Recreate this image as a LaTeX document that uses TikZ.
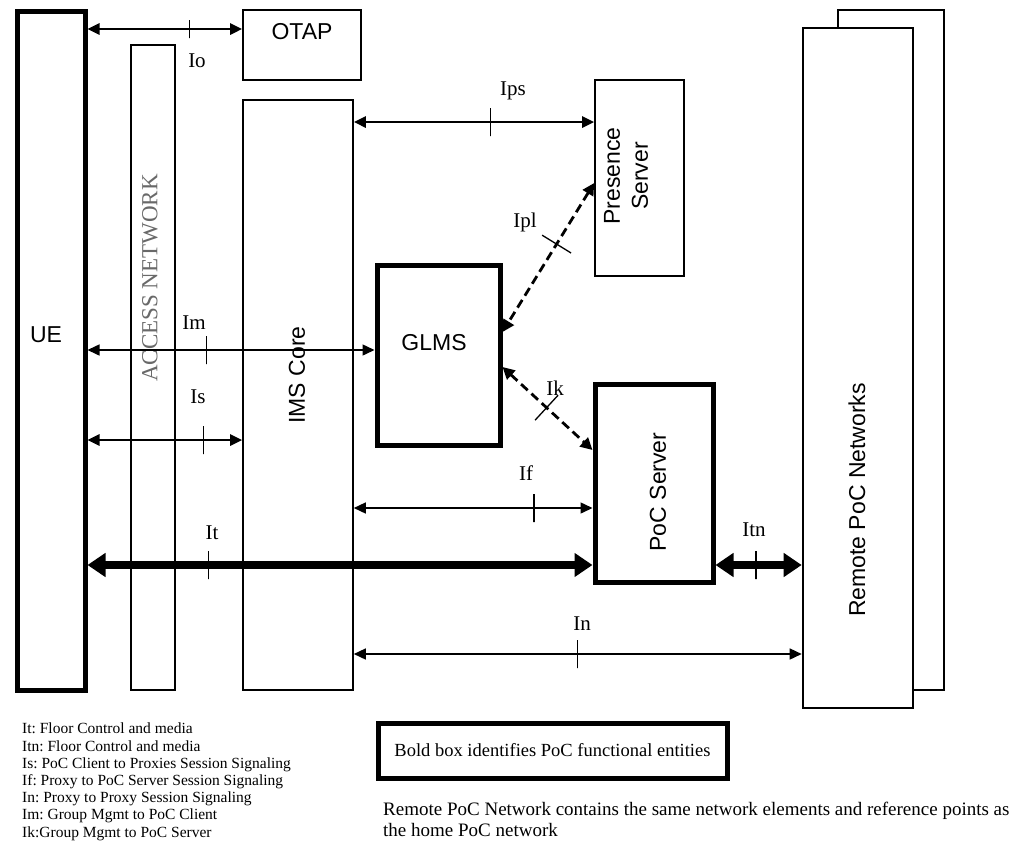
\documentclass[tikz,border=0pt]{standalone}
\usepackage{fontspec}
\setmainfont{Liberation Serif}
\setsansfont{Liberation Sans}
\frenchspacing
\definecolor{accgrey}{RGB}{105,105,105}
\usetikzlibrary{arrows.meta, positioning, calc}

\begin{document}
\begin{tikzpicture}[
  x=1pt, y=-1pt,
  entity/.style={rectangle, draw, fill=white, line width=1.6pt, inner sep=0pt},
  pocentity/.style={entity, line width=5pt},
  boxlabel/.style={font=\sffamily\fontsize{23}{28}\selectfont, inner sep=0pt},
  ifname/.style={font=\fontsize{21}{24}\selectfont, inner sep=0pt},
  tick/.style={draw, solid, line width=1.3pt, minimum width=0pt, minimum height=28pt,
               inner sep=0pt, outer sep=0pt, sloped},
  ref/.style={{Triangle[length=12pt,width=11pt]}-{Triangle[length=12pt,width=11pt]}, line width=1.5pt},
  refbold/.style={ref, line width=2.6pt},
  media/.style={{Triangle[length=18pt,width=23pt]}-{Triangle[length=18pt,width=23pt]}, line width=8pt},
  mgmt/.style={{Triangle[length=12pt,width=12pt]}-{Triangle[length=12pt,width=12pt]}, line width=2.8pt,
               dash pattern=on 9pt off 5pt},
  note/.style={font=\fontsize{15.5}{17.2}\selectfont, align=left, inner sep=0pt}
]
  \useasboundingbox (0,0) rectangle (1021,847);

  \node[entity, line width=2.6pt, minimum width=106pt, minimum height=680pt] (remoteback) at (891,350) {};
  \node[entity, line width=2.6pt, minimum width=110pt, minimum height=680pt] (remote) at (858,368) {};
  \node[boxlabel, rotate=90] (remotetxt) at (857,500) {Remote PoC Networks};

  \node[pocentity, minimum width=68pt, minimum height=679pt] (ue) at (51,350.5) {};
  \node[boxlabel] (uetxt) at (46,335) {UE};
  \node[entity, minimum width=44pt, minimum height=645pt] (access) at (153,367.5) {};
  \node[font=\fontsize{23}{27}\selectfont, text=accgrey, rotate=90, inner sep=0pt] (accesstxt) at (150,278) {ACCESS NETWORK};
  \node[entity, minimum width=118pt, minimum height=70pt] (otap) at (302,45) {};
  \node[boxlabel] (otaptxt) at (302,32) {OTAP};
  \node[entity, minimum width=110pt, minimum height=590pt] (ims) at (298,395) {};
  \node[boxlabel, rotate=90] (imstxt) at (297,375) {IMS Core};
  \node[entity, minimum width=89pt, minimum height=196pt] (presence) at (639.5,178) {};
  \node[boxlabel, rotate=90, align=center] (presencetxt) at (626,176) {Presence\\Server};
  \node[pocentity, minimum width=123pt, minimum height=180pt] (glms) at (438.5,355) {};
  \node[boxlabel] (glmstxt) at (434,343) {GLMS};
  \node[pocentity, minimum width=118pt, minimum height=198pt] (poc) at (654,483) {};
  \node[boxlabel, rotate=90] (poctxt) at (658,492) {PoC Server};

  \draw[refbold] (ue.east |- 0,29) -- node[tick, minimum height=18pt, pos=0.66] (iotick) {} (otap.west |- 0,29);
  \draw[refbold] (ims.east |- 0,122) -- node[tick, pos=0.57] (ipstick) {} (presence.west |- 0,122);
  \draw[mgmt] (presence.west |- 0,183) -- node[tick, minimum height=34pt, pos=0.41] (ipltick) {} (glms.east |- 0,332);
  \draw[mgmt] (glms.east |- 0,367) -- node[tick, minimum height=34pt, pos=0.49] (iktick) {} (poc.west |- 0,450);
  \draw[ref] (ue.east |- 0,350) -- node[tick, pos=0.415] (imtick) {} (glms.west |- 0,350);
  \draw[refbold] (ue.east |- 0,440) -- node[tick, pos=0.75] (istick) {} (ims.west |- 0,440);
  \draw[ref] (ims.east |- 0,508) -- node[tick, pos=0.755] (iftick) {} (poc.west |- 0,508);
  \draw[media] (ue.east |- 0,565) -- node[tick, pos=0.24] (ittick) {} (poc.west |- 0,565);
  \draw[media] (poc.east |- 0,565) -- node[tick, line width=2.6pt, pos=0.47] (itntick) {} (remote.west |- 0,565);
  \draw[ref] (ims.east |- 0,654) -- node[tick, pos=0.5] (intick) {} (remote.west |- 0,654);

  \node[ifname] (io) at (197,61) {Io};
  \node[ifname] (ips) at (513,91) {Ips};
  \node[ifname] (ipl) at (525,222) {Ipl};
  \node[ifname] (ik) at (555,388) {Ik};
  \node[ifname] (im) at (194,323) {Im};
  \node[ifname] (is) at (198,397) {Is};
  \node[ifname] (if) at (526,473) {If};
  \node[ifname] (it) at (212,533) {It};
  \node[ifname] (itn) at (754,530) {Itn};
  \node[ifname] (in) at (582,624) {In};

  \node[entity, line width=5pt, minimum width=349pt, minimum height=55pt,
        font=\fontsize{18.5}{22}\selectfont] (legend) at (552.5,750.5) {Bold box identifies PoC functional entities};
  \node[note, anchor=north west] (keys) at (22,723) {It: Floor Control and media\\
    Itn: Floor Control and media\\
    Is: PoC Client to Proxies Session Signaling\\
    If: Proxy to PoC Server Session Signaling\\
    In: Proxy to Proxy Session Signaling\\
    Im: Group Mgmt to PoC Client\\
    Ik:Group Mgmt to PoC Server};
  \node[note, font=\fontsize{19}{21}\selectfont, anchor=north west] (remotenote) at (383,802)
    {Remote PoC Network contains the same network elements and reference points as\\the home PoC network};
\end{tikzpicture}
\end{document}
